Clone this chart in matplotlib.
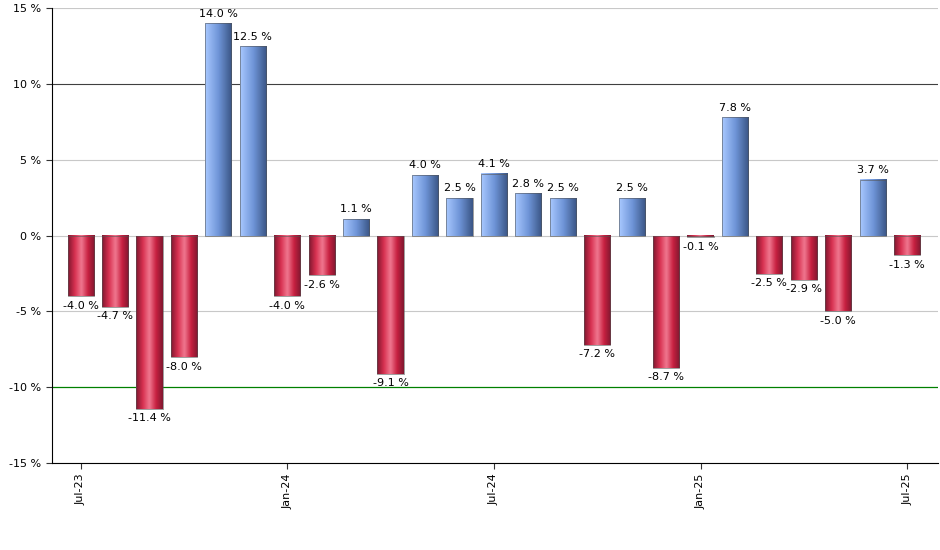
import numpy as np
import matplotlib.pyplot as plt
from matplotlib.colors import LinearSegmentedColormap

values = [-4.0, -4.7, -11.4, -8.0, 14.0, 12.5, -4.0, -2.6, 1.1, -9.1, 4.0, 2.5,
          4.1, 2.8, 2.5, -7.2, 2.5, -8.7, -0.1, 7.8, -2.5, -2.9, -5.0, 3.7, -1.3]
tick_pos = [0, 6, 12, 18, 24]
tick_labels = ['Jul-23', 'Jan-24', 'Jul-24', 'Jan-25', 'Jul-25']

blue = LinearSegmentedColormap.from_list('b', ['#a8c8ff', '#6f95d8', '#3a5585'])
red = LinearSegmentedColormap.from_list('r', ['#801830', '#d83050', '#f07890', '#c82040', '#801830'])

fig = plt.figure(figsize=(9.4, 5.5), dpi=100)
ax = fig.add_axes([0.055, 0.158, 0.943, 0.827])
ax.set_xlim(-0.84, 24.9)
ax.set_ylim(-15, 15)

for y in [-15, -5, 0, 5, 15]:
    ax.axhline(y, color='#c8c8c8', lw=0.8, zorder=0)
ax.axhline(10, color='#404040', lw=0.8, zorder=0)
ax.axhline(-10, color='#008000', lw=0.9, zorder=0)

grad = np.linspace(0, 1, 64).reshape(1, -1)
w = 0.76
for i, v in enumerate(values):
    cmap = blue if v >= 0 else red
    ax.imshow(grad, cmap=cmap, aspect='auto', extent=[i - w/2, i + w/2, min(0, v), max(0, v)],
              zorder=2, interpolation='bicubic')
    ax.bar(i, v, width=w, fill=False, edgecolor='#555555', lw=0.4, zorder=3)
    if v >= 0:
        ax.text(i, v + 0.3, f'{v:.1f} %', ha='center', va='bottom', fontsize=8)
    else:
        ax.text(i, v - 0.3, f'{v:.1f} %', ha='center', va='top', fontsize=8)

ax.set_xlim(-0.84, 24.9)
ax.set_ylim(-15, 15)
ax.set_yticks(range(-15, 16, 5))
ax.set_yticklabels([f'{t} %' for t in range(-15, 16, 5)], fontsize=8)
ax.set_xticks(tick_pos)
ax.set_xticklabels(tick_labels, rotation=90, fontsize=8)
for s in ['top', 'right']:
    ax.spines[s].set_visible(False)
ax.tick_params(length=4, color='#333333')

fig.savefig('out.png')
